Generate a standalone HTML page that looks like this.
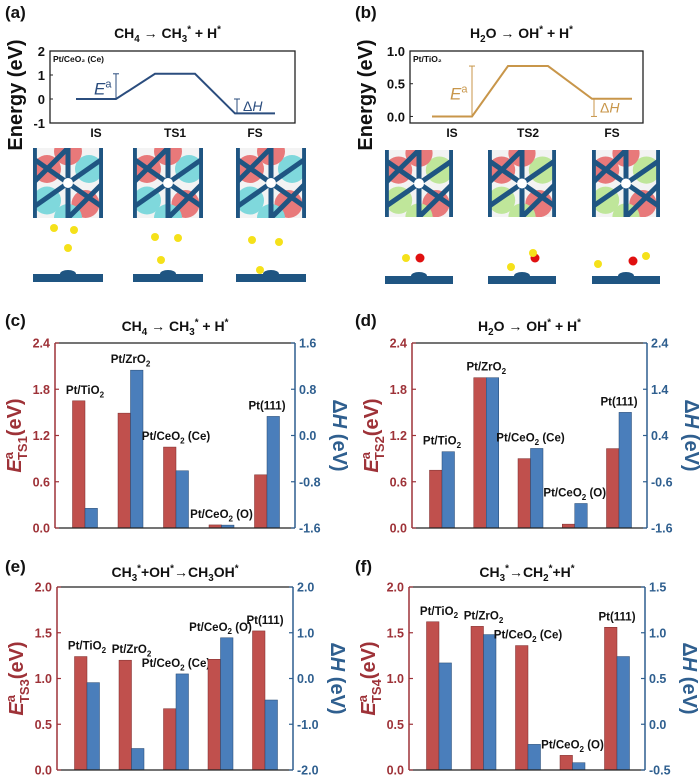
<!DOCTYPE html>
<html><head><meta charset="utf-8">
<style>
html,body{margin:0;padding:0;background:#fff;}
svg{display:block;font-family:"Liberation Sans",Arial,sans-serif;}
</style></head>
<body>
<svg id="fig" width="700" height="778" viewBox="0 0 700 778" xmlns="http://www.w3.org/2000/svg"></svg>
<script>
// ---------- data ----------
const categories = ["Pt/TiO{_2}", "Pt/ZrO{_2}", "Pt/CeO{_2} (Ce)", "Pt/CeO{_2} (O)", "Pt(111)"];
const cRed  = [1.65, 1.49, 1.05, 0.04, 0.69];
const cBlue = [-1.26, 1.13, -0.61, -1.55, 0.33];
const dRed  = [0.75, 1.95, 0.90, 0.05, 1.03];
const dBlue = [0.05, 1.65, 0.12, -1.07, 0.90];
const eRed  = [1.24, 1.20, 0.67, 1.21, 1.52];
const eBlue = [-0.09, -1.53, 0.10, 0.89, -0.47];
const fRed  = [1.62, 1.57, 1.36, 0.16, 1.56];
const fBlue = [0.67, 0.98, -0.22, -0.42, 0.74];
const cLeftTicks = ["0.0","0.6","1.2","1.8","2.4"];
const cRightTicks = ["-1.6","-0.8","0.0","0.8","1.6"];
const dLeftTicks = ["0.0","0.6","1.2","1.8","2.4"];
const dRightTicks = ["-1.6","-0.6","0.4","1.4","2.4"];
const eLeftTicks = ["0.0","0.5","1.0","1.5","2.0"];
const eRightTicks = ["-2.0","-1.0","0.0","1.0","2.0"];
const fLeftTicks = ["0.0","0.5","1.0","1.5","2.0"];
const fRightTicks = ["-0.5","0.0","0.5","1.0","1.5"];
// energy profiles (a),(b)
const aStates = ["IS","TS1","FS"];
const aEnergy = [0, 1.05, -0.6];
const aTicks = ["-1","0","1","2"];
const bStates = ["IS","TS2","FS"];
const bEnergy = [0, 0.77, 0.27];
const bTicks = ["0.0","0.5","1.0"];

const NS = "http://www.w3.org/2000/svg";
const svg = document.getElementById("fig");
const RED = "#c0504d", BLUE = "#4a7ebb", RAX = "#9e3238", BAX = "#2f5f8f";

function el(tag, attrs, parent) {
  const e = document.createElementNS(NS, tag);
  for (const k in attrs) e.setAttribute(k, attrs[k]);
  (parent || svg).appendChild(e);
  return e;
}
// text with {_x} subscripts and {^x} superscripts
function txt(parent, x, y, str, opts) {
  const t = el("text", Object.assign({x: x, y: y, "font-size": 12, "font-weight": "bold", fill: "#111"}, opts || {}), parent);
  const parts = str.split(/(\{[_^][^}]*\})/);
  const fs = parseFloat(t.getAttribute("font-size"));
  parts.forEach(p => {
    if (!p) return;
    const s = el("tspan", {}, t);
    if (p[0] === "{") {
      const sub = p[1] === "_";
      s.textContent = p.slice(2, -1);
      s.setAttribute("font-size", fs * 0.7);
      s.setAttribute("dy", sub ? fs * 0.3 : -fs * 0.4);
      const back = el("tspan", {dy: sub ? -fs * 0.3 : fs * 0.4}, t);
      back.textContent = "\u200b";
      t.insertBefore(s, back);
    } else {
      s.textContent = p;
    }
  });
  return t;
}

// ---------- bar chart ----------
function barChart(cfg) {
  const g = el("g", {});
  
  
  const {x0, x1, yTop, yBot, lMin, lMax, rMin, rMax} = cfg;
  const yL = v => yBot - (v - lMin) / (lMax - lMin) * (yBot - yTop);
  const yR = v => yBot - (v - rMin) / (rMax - rMin) * (yBot - yTop);
  const step = (x1 - x0 - 58) / (categories.length - 1);
  const bw = 12.5;
  const pl = txt(g, cfg.lx, cfg.ly, cfg.letter, {"font-size": 17});
  
  
  const ti = txt(g, (x0 + x1) / 2, cfg.ly + 5, cfg.title, {"font-size": 14, "text-anchor": "middle"});
  
  
  categories.forEach((c, i) => {
    const cx = x0 + 30 + step * i;
    const ry = yL(cfg.red[i]);
    const r = el("rect", {x: cx - bw, y: ry, width: bw, height: yBot - ry, fill: RED, stroke: "#7a2a2a", "stroke-width": 0.5}, g);
    
    
    const by = yR(cfg.blue[i]);
    const zero = yBot;
    const b = el("rect", {x: cx, y: Math.min(by, zero), width: bw, height: Math.abs(zero - by), fill: BLUE, stroke: "#24466e", "stroke-width": 0.5}, g);
    
    
    const top = Math.min(ry, by);
    const lb = txt(g, cx, top - 7, c, {"font-size": 11.5, "text-anchor": "middle"});
    
    
  });
  el("line", {x1: x0, y1: yTop, x2: x1, y2: yTop, stroke: "#222", "stroke-width": 1.2}, g);
  el("line", {x1: x0, y1: yBot, x2: x1, y2: yBot, stroke: "#222", "stroke-width": 1.2}, g);
  el("line", {x1: x0, y1: yTop, x2: x0, y2: yBot, stroke: RAX, "stroke-width": 1.5}, g);
  el("line", {x1: x1, y1: yTop, x2: x1, y2: yBot, stroke: BAX, "stroke-width": 1.5}, g);
  cfg.lt.forEach(t => {
    const y = yL(parseFloat(t));
    el("line", {x1: x0, y1: y, x2: x0 + 4, y2: y, stroke: RAX, "stroke-width": 1.2}, g);
    const tl = txt(g, x0 - 5, y + 4.5, t, {"font-size": 12.5, fill: RAX, "text-anchor": "end"});
    
    
  });
  cfg.rt.forEach(t => {
    const y = yR(parseFloat(t));
    el("line", {x1: x1, y1: y, x2: x1 - 4, y2: y, stroke: BAX, "stroke-width": 1.2}, g);
    const tl = txt(g, x1 + 4, y + 4.5, t, {"font-size": 12.5, fill: BAX});
    
    
  });
  const ym = (yTop + yBot) / 2;
  const lt = el("text", {transform: `translate(${x0 - 34},${ym}) rotate(-90)`, "text-anchor": "middle", "font-size": 20, "font-weight": "bold", fill: RAX}, g);
  
  
  const s1 = el("tspan", {"font-style": "italic"}, lt); s1.textContent = "E";
  const s2 = el("tspan", {"font-size": 13, dy: -8}, lt); s2.textContent = "a";
  const s3 = el("tspan", {"font-size": 13, dx: -8, dy: 14}, lt); s3.textContent = cfg.ts;
  const s4 = el("tspan", {dy: -6}, lt); s4.textContent = "(eV)";
  const rt = el("text", {transform: `translate(${x1 + 38},${ym}) rotate(90)`, "text-anchor": "middle", "font-size": 20, "font-weight": "bold", fill: BAX}, g);
  
  
  const r1 = el("tspan", {}, rt); r1.textContent = "\u0394";
  const r2 = el("tspan", {"font-style": "italic"}, rt); r2.textContent = "H";
  const r3 = el("tspan", {}, rt); r3.textContent = " (eV)";
}

barChart({name: "chart-c", letter: "(c)", title: "CH{_4} \u2192 CH{_3}{^*} + H{^*}", ts: "TS1", lx: 5, ly: 326,
  x0: 55, x1: 295, yTop: 343, yBot: 528, lMin: 0, lMax: 2.4, rMin: -1.6, rMax: 1.6,
  red: cRed, blue: cBlue, lt: cLeftTicks, rt: cRightTicks});
barChart({name: "chart-d", letter: "(d)", title: "H{_2}O \u2192 OH{^*} + H{^*}", ts: "TS2", lx: 355, ly: 326,
  x0: 412, x1: 647, yTop: 343, yBot: 528, lMin: 0, lMax: 2.4, rMin: -1.6, rMax: 2.4,
  red: dRed, blue: dBlue, lt: dLeftTicks, rt: dRightTicks});
barChart({name: "chart-e", letter: "(e)", title: "CH{_3}{^*}+OH{^*}\u2192CH{_3}OH{^*}", ts: "TS3", lx: 5, ly: 572,
  x0: 57, x1: 293, yTop: 587, yBot: 770, lMin: 0, lMax: 2.0, rMin: -2.0, rMax: 2.0,
  red: eRed, blue: eBlue, lt: eLeftTicks, rt: eRightTicks});
barChart({name: "chart-f", letter: "(f)", title: "CH{_3}{^*}\u2192CH{_2}{^*}+H{^*}", ts: "TS4", lx: 355, ly: 572,
  x0: 409, x1: 645, yTop: 587, yBot: 770, lMin: 0, lMax: 2.0, rMin: -0.5, rMax: 1.5,
  red: fRed, blue: fBlue, lt: fLeftTicks, rt: fRightTicks});

// ---------- energy profiles ----------
function profile(cfg) {
  const g = el("g", {});
  
  
  const {x0, x1, yTop, yBot, vMin, vMax, col} = cfg;
  const Y = v => yBot - (v - vMin) / (vMax - vMin) * (yBot - yTop);
  const pl = txt(g, cfg.lx, 18, cfg.letter, {"font-size": 17});
  
  
  const ti = txt(g, (x0 + x1) / 2 - 5, 38, cfg.title, {"font-size": 14, "text-anchor": "middle"});
  
  
  el("rect", {x: x0, y: yTop, width: x1 - x0, height: yBot - yTop, fill: "none", stroke: "#222", "stroke-width": 1.3}, g);
  cfg.ticks.forEach(t => {
    const y = Y(parseFloat(t));
    el("line", {x1: x0, y1: y, x2: x0 + 3, y2: y, stroke: "#222"}, g);
    const tl = txt(g, x0 - 5, y + 5, t, {"font-size": 13, "text-anchor": "end"});
    
    
  });
  const st = el("text", {x: x0 + 3, y: yTop + 11, "font-size": 8.5, "font-weight": "bold", fill: "#111"}, g);
  st.textContent = cfg.system;
  
  
  const w = 40;
  let pts = [];
  cfg.states.forEach((s, i) => {
    const cx = cfg.cx[i];
    pts.push([cx - w / 2, Y(cfg.energy[i])], [cx + w / 2, Y(cfg.energy[i])]);
    const sl = txt(g, cx, yBot + 14, s, {"font-size": 12, "text-anchor": "middle"});
    
    
  });
  const line = el("polyline", {points: pts.map(p => p.join(",")).join(" "), fill: "none", stroke: col, "stroke-width": 2}, g);
  
  
  const ex = cfg.cx[0] + w / 2;
  el("line", {x1: ex, y1: Y(cfg.energy[0]), x2: ex, y2: Y(cfg.energy[1]), stroke: col, "stroke-width": 1}, g);
  el("line", {x1: ex - 3, y1: Y(cfg.energy[1]), x2: ex + 3, y2: Y(cfg.energy[1]), stroke: col}, g);
  const ea = el("text", {x: ex - 22, y: (Y(0) + Y(cfg.energy[1])) / 2 + 8, "font-size": 17, fill: col}, g);
  
  
  const e1 = el("tspan", {"font-style": "italic"}, ea); e1.textContent = "E";
  const e2 = el("tspan", {"font-size": 11, dy: -7}, ea); e2.textContent = "a";
  const hx = cfg.cx[2] - w / 2 + 2;
  el("line", {x1: hx, y1: Y(0), x2: hx, y2: Y(cfg.energy[2]), stroke: col}, g);
  el("line", {x1: hx - 3, y1: Y(0), x2: hx + 3, y2: Y(0), stroke: col}, g);
  const dh = el("text", {x: hx + 6, y: (Y(0) + Y(cfg.energy[2])) / 2 + 5, "font-size": 14, fill: col}, g);
  
  
  const d1 = el("tspan", {}, dh); d1.textContent = "\u0394";
  const d2 = el("tspan", {"font-style": "italic"}, dh); d2.textContent = "H";
  const yl = el("text", {transform: `translate(${cfg.yx},95) rotate(-90)`, "text-anchor": "middle", "font-size": 20, "font-weight": "bold", fill: "#111"}, g);
  yl.textContent = "Energy (eV)";
  
  
}
profile({name: "chart-a", letter: "(a)", title: "CH{_4} \u2192 CH{_3}{^*} + H{^*}", system: "Pt/CeO\u2082 (Ce)", lx: 5, yx: 22,
  x0: 50, x1: 295, yTop: 51, yBot: 123, vMin: -1, vMax: 2, col: "#2b4d7e",
  states: aStates, energy: aEnergy, ticks: aTicks, cx: [96, 175, 255]});
profile({name: "chart-b", letter: "(b)", title: "H{_2}O \u2192 OH{^*} + H{^*}", system: "Pt/TiO\u2082", lx: 355, yx: 372,
  x0: 410, x1: 643, yTop: 51, yBot: 123, vMin: -0.1, vMax: 1.0, col: "#c8964a",
  states: bStates, energy: bEnergy, ticks: bTicks, cx: [452, 528, 612]});

// ---------- structure images (schematic) ----------
function topView(x, y, w, h, c2) {
  const g = el("g", {});
  
  
  el("rect", {x: x, y: y, width: w, height: h, fill: "#f3f3f3"}, g);
  const cp = "clip" + x + "_" + y;
  const cl = el("clipPath", {id: cp}, g);
  el("rect", {x: x, y: y, width: w, height: h}, cl);
  const inner = el("g", {"clip-path": `url(#${cp})`}, g);
  [[0.2, 0.3, "#e8797a"], [0.8, 0.3, c2], [0.2, 0.75, c2], [0.75, 0.8, "#e8797a"], [0.5, 0.05, "#e8797a"], [0.5, 1.0, c2]].forEach(p =>
    el("circle", {cx: x + p[0] * w, cy: y + p[1] * h, r: w * 0.2, fill: p[2]}, inner));
  const L = "#1f5582";
  [[0.5, 0, 0.5, 1], [0, 0.15, 1, 0.85], [0, 0.85, 1, 0.15], [0, 0.5, 0.5, 0], [0.5, 1, 1, 0.5], [0.02, 0, 0.02, 1], [0.98, 0, 0.98, 1]].forEach(l =>
    el("line", {x1: x + l[0] * w, y1: y + l[1] * h, x2: x + l[2] * w, y2: y + l[3] * h, stroke: L, "stroke-width": 5}, inner));
  el("circle", {cx: x + w / 2, cy: y + h / 2, r: 5, fill: "#fff"}, inner);
}
function sideView(x, y, w, balls, red) {
  const g = el("g", {});
  
  
  el("rect", {x: x, y: y, width: w, height: 8, fill: "#1f5582"}, g);
  el("ellipse", {cx: x + w / 2, cy: y, rx: 8, ry: 4, fill: "#1f5582"}, g);
  if (red) el("circle", {cx: red[0], cy: red[1], r: 4.5, fill: "#e01010"}, g);
  balls.forEach(b => el("circle", {cx: b[0], cy: b[1], r: 4, fill: "#f5e11a"}, g));
}
topView(33, 148, 70, 70, "#7fd8dc");
topView(133, 148, 70, 70, "#7fd8dc");
topView(236, 148, 70, 70, "#7fd8dc");
sideView(33, 274, 70, [[54, 228], [74, 230], [68, 248]]);
sideView(133, 274, 70, [[155, 237], [178, 238], [161, 260]]);
sideView(236, 274, 70, [[252, 240], [279, 242], [260, 270]]);
topView(385, 150, 68, 67, "#bfe69a");
topView(488, 150, 68, 67, "#bfe69a");
topView(592, 150, 68, 67, "#bfe69a");
sideView(385, 276, 68, [[406, 258]], [420, 258]);
sideView(488, 276, 68, [[511, 267], [533, 253]], [535, 258]);
sideView(592, 276, 68, [[598, 264], [646, 256]], [633, 261]);
</script>
</body></html>
